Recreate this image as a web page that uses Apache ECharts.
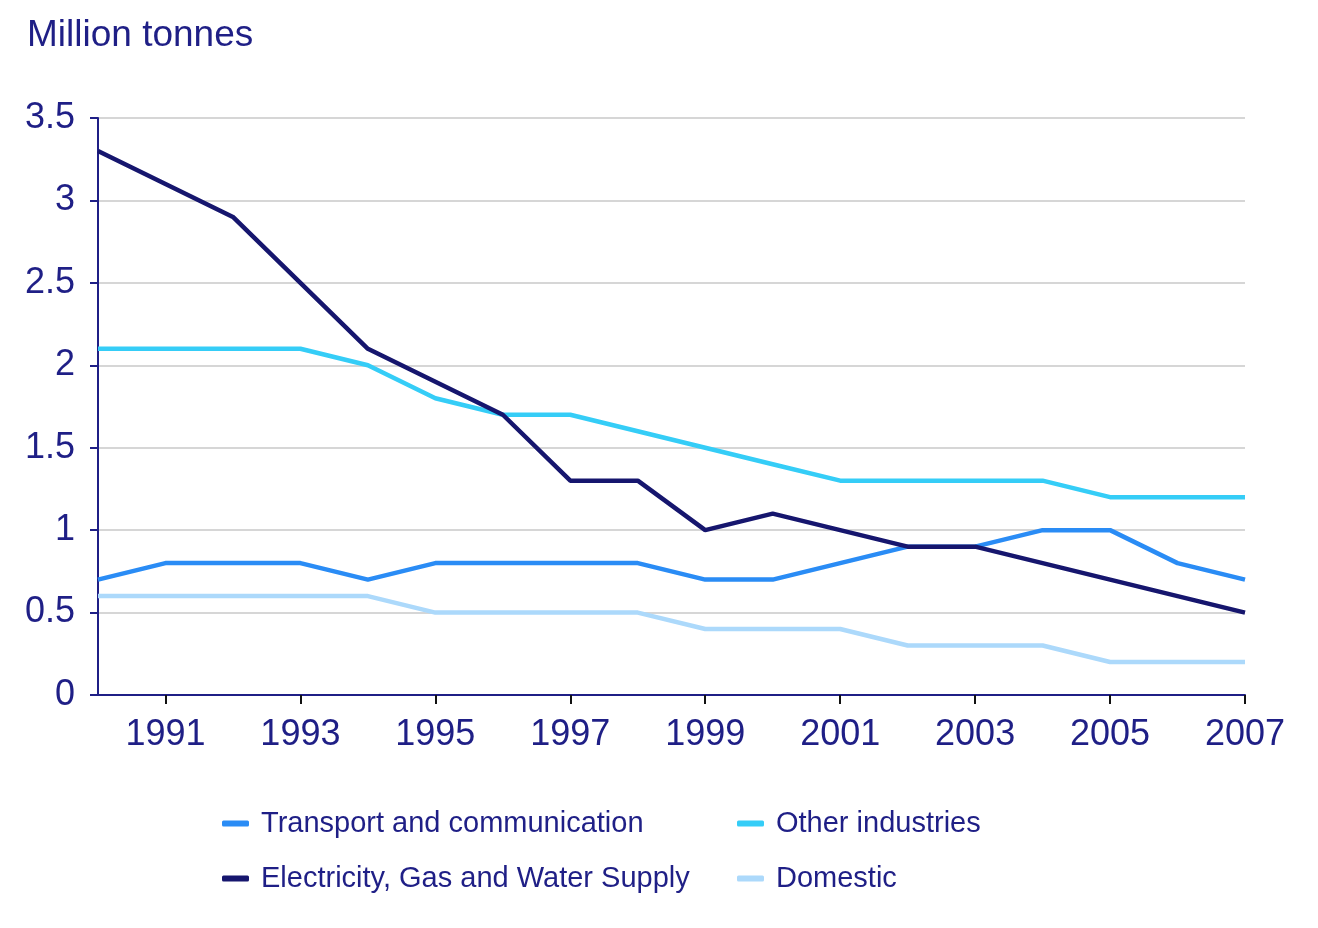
<!DOCTYPE html>
<html>
<head>
    <meta charset="utf-8">
    <title>Million tonnes</title>
    <style>
        html, body { margin: 0; padding: 0; background: #fff; }
        #chart { width: 1318px; height: 928px; }
    </style>
</head>
<body>
    <div id="chart"></div>
    <script src="https://cdn.jsdelivr.net/npm/echarts@6/dist/echarts.min.js"></script>
    <script>
        // 年份
        var years = ['1990', '1991', '1992', '1993', '1994', '1995', '1996', '1997', '1998',
            '1999', '2000', '2001', '2002', '2003', '2004', '2005', '2006', '2007'];
        var transport = [0.7, 0.8, 0.8, 0.8, 0.7, 0.8, 0.8, 0.8, 0.8, 0.7, 0.7, 0.8, 0.9, 0.9, 1.0, 1.0, 0.8, 0.7];
        var electricity = [3.3, 3.1, 2.9, 2.5, 2.1, 1.9, 1.7, 1.3, 1.3, 1.0, 1.1, 1.0, 0.9, 0.9, 0.8, 0.7, 0.6, 0.5];
        var otherInd = [2.1, 2.1, 2.1, 2.1, 2.0, 1.8, 1.7, 1.7, 1.6, 1.5, 1.4, 1.3, 1.3, 1.3, 1.3, 1.2, 1.2, 1.2];
        var domestic = [0.6, 0.6, 0.6, 0.6, 0.6, 0.5, 0.5, 0.5, 0.5, 0.4, 0.4, 0.4, 0.3, 0.3, 0.3, 0.2, 0.2, 0.2];

        var navy = '#1f1f86';
        var font = 'Liberation Sans';
        var oddYear = function (idx) { return idx % 2 === 1; };

        function line(name, data, color) {
            return {
                name: name,
                type: 'line',
                data: data,
                symbol: 'none',
                lineStyle: { color: color, width: 4.5 },
                itemStyle: { color: color }
            };
        }

        var chart = echarts.init(document.getElementById('chart'));
        chart.setOption({
            animation: false,
            textStyle: { fontFamily: font },
            graphic: [{
                type: 'text', left: 27, top: 17,
                style: { text: 'Million tonnes', fontSize: 37, fill: navy, fontFamily: font }
            }],
            legend: [{
                left: 217, top: 804, orient: 'vertical', itemGap: 26,
                icon: 'roundRect', itemWidth: 27, itemHeight: 6,
                textStyle: { fontSize: 29, color: navy, padding: [0, 0, 0, 7] },
                data: ['Transport and communication', 'Electricity, Gas and Water Supply']
            }, {
                left: 732, top: 804, orient: 'vertical', itemGap: 26,
                icon: 'roundRect', itemWidth: 27, itemHeight: 6,
                textStyle: { fontSize: 29, color: navy, padding: [0, 0, 0, 7] },
                data: ['Other industries', 'Domestic']
            }],
            grid: { left: 98, right: 73, top: 118, bottom: 233 },
            xAxis: {
                type: 'category',
                data: years,
                boundaryGap: false,
                axisLine: { lineStyle: { color: navy, width: 2 } },
                axisTick: { interval: oddYear, length: 9, lineStyle: { color: '#111', width: 2 } },
                axisLabel: { interval: oddYear, fontSize: 36, color: navy, margin: 22 },
                splitLine: { show: false }
            },
            yAxis: {
                type: 'value',
                min: 0, max: 3.5, interval: 0.5,
                axisLine: { show: true, lineStyle: { color: navy, width: 2 } },
                axisTick: { show: true, length: 8, lineStyle: { color: navy, width: 2 } },
                axisLabel: { fontSize: 36, color: navy, margin: 23 },
                splitLine: { lineStyle: { color: '#d6d6d6', width: 2 } }
            },
            series: [
                line('Transport and communication', transport, '#2a8cf5'),
                line('Other industries', otherInd, '#35cdf7'),
                line('Electricity, Gas and Water Supply', electricity, '#16166e'),
                line('Domestic', domestic, '#acd9fb')
            ]
        });
    </script>
</body>
</html>
